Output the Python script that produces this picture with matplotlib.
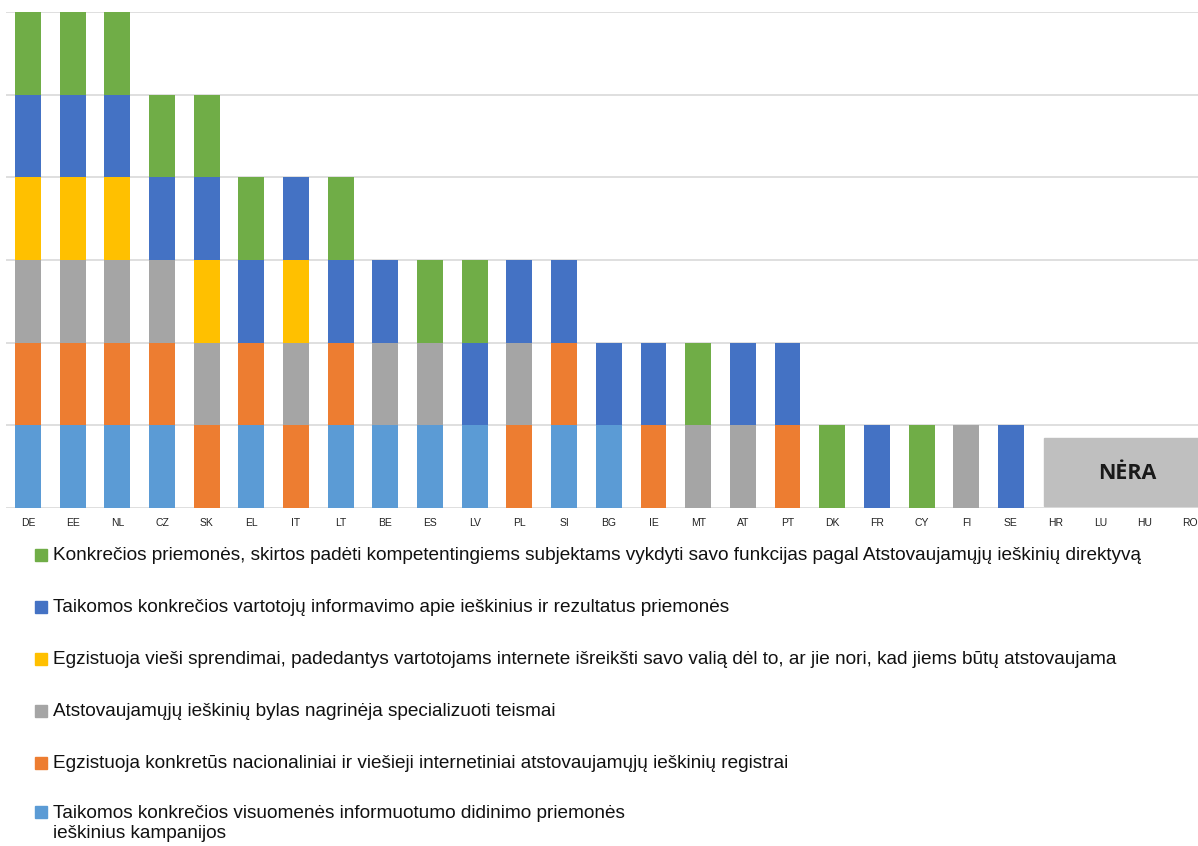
import matplotlib
matplotlib.use("Agg")
import matplotlib.pyplot as plt
import matplotlib.patches as patches
import numpy as np

countries = ["DE", "EE", "NL", "CZ", "SK", "EL", "IT", "LT", "BE", "ES", "LV", "PL", "SI",
             "BG", "IE", "MT", "AT", "PT", "DK", "FR", "CY", "FI", "SE", "HR", "LU", "HU", "RO"]

# 1 = measure exists in the country, 0 = not (stacked from bottom to top)
awareness = [1, 1, 1, 1, 0, 1, 0, 1, 1, 1, 1, 0, 1, 1, 0, 0, 0, 0, 0, 0, 0, 0, 0, 0, 0, 0, 0]
registers = [1, 1, 1, 1, 1, 1, 1, 1, 0, 0, 0, 1, 1, 0, 1, 0, 0, 1, 0, 0, 0, 0, 0, 0, 0, 0, 0]
courts    = [1, 1, 1, 1, 1, 0, 1, 0, 1, 1, 0, 1, 0, 0, 0, 1, 1, 0, 0, 0, 0, 1, 0, 0, 0, 0, 0]
optin     = [1, 1, 1, 0, 1, 0, 1, 0, 0, 0, 0, 0, 0, 0, 0, 0, 0, 0, 0, 0, 0, 0, 0, 0, 0, 0, 0]
info      = [1, 1, 1, 1, 1, 1, 1, 1, 1, 0, 1, 1, 1, 1, 1, 0, 1, 1, 0, 1, 0, 0, 1, 0, 0, 0, 0]
support   = [1, 1, 1, 1, 1, 1, 0, 1, 0, 1, 1, 0, 0, 0, 0, 1, 0, 0, 1, 0, 1, 0, 0, 0, 0, 0, 0]

series = [awareness, registers, courts, optin, info, support]
colors = ["#5B9BD5", "#ED7D31", "#A5A5A5", "#FFC000", "#4472C4", "#70AD47"]
labels = [
    "Taikomos konkrečios visuomenės informuotumo didinimo priemonės\nieškinius kampanijos",
    "Egzistuoja konkretūs nacionaliniai ir viešieji internetiniai atstovaujamųjų ieškinių registrai",
    "Atstovaujamųjų ieškinių bylas nagrinėja specializuoti teismai",
    "Egzistuoja vieši sprendimai, padedantys vartotojams internete išreikšti savo valią dėl to, ar jie nori, kad jiems būtų atstovaujama",
    "Taikomos konkrečios vartotojų informavimo apie ieškinius ir rezultatus priemonės",
    "Konkrečios priemonės, skirtos padėti kompetentingiems subjektams vykdyti savo funkcijas pagal Atstovaujamųjų ieškinių direktyvą",
]
none_label = "NĖRA"

narrow = ["Liberation Sans Narrow", "Liberation Sans", "DejaVu Sans"]

W, H = 1198, 846
fig = plt.figure(figsize=(W / 100, H / 100), dpi=100)
ax = fig.add_axes([5.6 / W, 1 - 508 / H, (1212 - 5.6) / W, 496 / H])

x = np.arange(len(countries))
bottom = np.zeros(len(countries))
for vals, col in zip(series, colors):
    vals = np.array(vals, dtype=float)
    ax.bar(x, vals, 0.58, bottom=bottom, color=col, zorder=2)
    bottom += vals

ax.set_xlim(-0.5, len(countries) - 0.5)
ax.set_ylim(0, 6)
ax.set_yticks(range(0, 7))
ax.yaxis.grid(True, color="#D9D9D9", lw=1.2, zorder=0)
ax.tick_params(axis="y", length=0, labelleft=False)
ax.set_xticks(x)
ax.set_xticklabels(countries, fontsize=7.5, family=narrow, color="#222222")
ax.tick_params(axis="x", length=0, pad=7)
for s in ax.spines.values():
    s.set_visible(False)

# "NĖRA" box for the countries without any measure
ax.add_patch(patches.Rectangle((22.73, 0.03), 3.75, 0.815, color="#BFBFBF", zorder=3))
ax.text(24.6, 0.42, none_label, ha="center", va="center", fontsize=15.5,
        fontweight="bold", family=["Open Sans", "DejaVu Sans"], color="#1a1a1a", zorder=4)

# legend, reversed order
row_y = [555, 607, 659, 711, 763, 812]
for i, (lab, col) in enumerate(zip(labels[::-1], colors[::-1])):
    y = row_y[i]
    fig.patches.append(patches.Rectangle((35 / W, 1 - (y + 6) / H), 12 / W, 12 / H,
                                         color=col, transform=fig.transFigure, figure=fig))
    ty = y if "\n" not in lab else y + 11.5
    fig.text(53 / W, 1 - ty / H, lab, ha="left", va="center",
             fontsize=13.7, family=narrow, color="#111111", linespacing=1.17)

fig.savefig("out.png", dpi=100)
